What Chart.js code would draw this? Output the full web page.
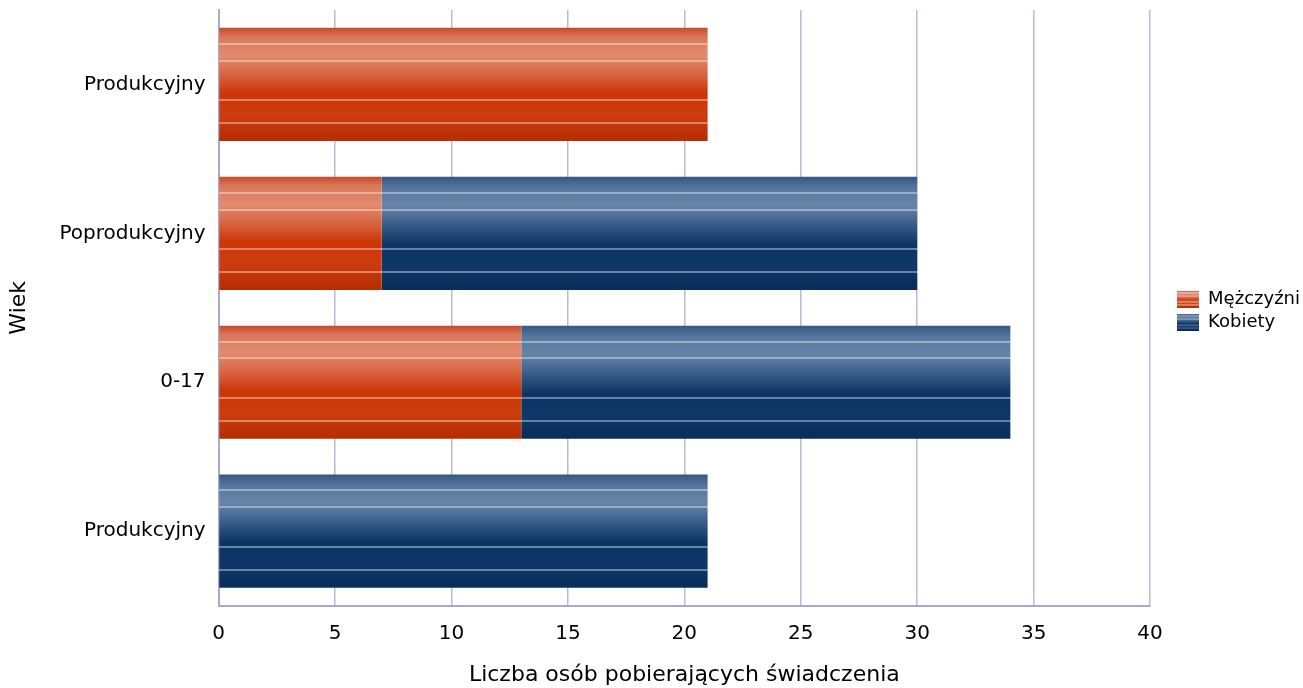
<!DOCTYPE html>
<html>
<head>
<meta charset="utf-8">
<script src="https://cdn.jsdelivr.net/npm/chart.js@4.4.1/dist/chart.umd.min.js"></script>
<style>
html,body{margin:0;padding:0;background:#fff;}
#wrap{width:1303px;height:688px;position:relative;}
</style>
</head>
<body>
<div id="wrap"><canvas id="c" width="1303" height="688"></canvas></div>
<script>
const categories = ['Produkcyjny', 'Poprodukcyjny', '0-17', 'Produkcyjny'];
const seriesNames = ['Mężczyźni', 'Kobiety'];
const menValues = [21, 7, 13, 0];
const womenValues = [0, 23, 21, 21];
const xTicks = [0, 5, 10, 15, 20, 25, 30, 35, 40];
const xTitle = 'Liczba osób pobierających świadczenia';
const yTitle = 'Wiek';

const FONT = 'DejaVu Sans';
const BAR_FRAC = 0.76;

const orangeStops = [[0,'#c9492a'],[0.08,'#db7658'],[0.24,'#e28b6f'],[0.42,'#d7623f'],[0.58,'#cc3505'],[0.76,'#cd3d0e'],[1,'#b52d02']];
const blueStops = [[0,'#355781'],[0.1,'#56769e'],[0.25,'#6785a8'],[0.42,'#3a5d88'],[0.6,'#0b3464'],[0.8,'#0e3868'],[1,'#092c59']];
const linePos = [0.14, 0.29, 0.64, 0.84];

function hex2rgb(h){return [parseInt(h.substr(1,2),16),parseInt(h.substr(3,2),16),parseInt(h.substr(5,2),16)];}
function sample(stops,p){
  for(let i=0;i<stops.length-1;i++){
    const [a,ca]=stops[i],[b,cb]=stops[i+1];
    if(p>=a&&p<=b){const t=(p-a)/(b-a);const x=hex2rgb(ca),y=hex2rgb(cb);return x.map((v,k)=>v+(y[k]-v)*t);}
  }
  return hex2rgb(stops[stops.length-1][1]);
}
function rgbStr(c){return 'rgb('+c.map(v=>Math.round(v)).join(',')+')';}
function mixWhite(c,a){return c.map(v=>v+(255-v)*a);}
function fullStops(stops,h){
  const w = 1.0/Math.max(h,1);
  let out = stops.map(s=>[s[0],rgbStr(hex2rgb(s[1]))]);
  linePos.forEach(p=>{
    const c0=sample(stops,p-w), c1=sample(stops,p+w);
    const m=mixWhite(sample(stops,p),0.38);
    out.push([p-w, rgbStr(c0)]);
    out.push([p-w+0.0001, rgbStr(m)]);
    out.push([p+w-0.0001, rgbStr(m)]);
    out.push([p+w, rgbStr(c1)]);
  });
  out.sort((a,b)=>a[0]-b[0]);
  return out;
}
function makeGrad(ctx2d,y0,y1,stops){
  const g=ctx2d.createLinearGradient(0,y0,0,y1);
  fullStops(stops,y1-y0).forEach(s=>g.addColorStop(Math.min(1,Math.max(0,s[0])),s[1]));
  return g;
}
function barFill(stops,solid){
  return function(ctx){
    const chart=ctx.chart;
    if(!chart.chartArea||!chart.scales.y) return solid;
    const ys=chart.scales.y;
    const yc=ys.getPixelForValue(ctx.dataIndex);
    const h=(ys.height/categories.length)*BAR_FRAC;
    return makeGrad(chart.ctx,yc-h/2,yc+h/2,stops);
  };
}
function legendIcon(stops){
  const cv=document.createElement('canvas');
  cv.width=22;cv.height=17;
  const c=cv.getContext('2d');
  c.fillStyle=makeGrad(c,0,17,stops);
  c.fillRect(0,0,22,17);
  return cv;
}
const icons=[legendIcon(orangeStops),legendIcon(blueStops)];

// shifts the legend drawing a little away from the plot area
const legendShift = {
  id:'legendShift',
  beforeDraw(chart){
    const lg=chart.legend;
    if(lg && !lg._shiftPatched){
      const orig=lg.draw.bind(lg);
      lg.draw=function(){
        const dx=chart.chartArea.right+22-lg.left;
        chart.ctx.save();chart.ctx.translate(dx,3);orig();chart.ctx.restore();
      };
      lg._shiftPatched=true;
    }
  }
};

new Chart(document.getElementById('c'),{
  type:'bar',
  data:{
    labels:categories,
    datasets:[
      {label:seriesNames[0],data:menValues,backgroundColor:barFill(orangeStops,'#cc3300'),borderWidth:0},
      {label:seriesNames[1],data:womenValues,backgroundColor:barFill(blueStops,'#0b3464'),borderWidth:0}
    ]
  },
  plugins:[legendShift],
  options:{
    indexAxis:'y',
    responsive:false,
    animation:false,
    devicePixelRatio:1,
    datasets:{bar:{barPercentage:1,categoryPercentage:BAR_FRAC}},
    layout:{padding:{top:10,right:15,left:6,bottom:0}},
    plugins:{
      tooltip:{enabled:false},
      legend:{
        position:'right',
        align:'center',
        fullSize:false,
        labels:{
          usePointStyle:true,
          pointStyleWidth:22,
          color:'#000',
          font:{family:FONT,size:18},
          padding:5,
          generateLabels:function(chart){
            return chart.data.datasets.map((ds,i)=>({text:ds.label,pointStyle:icons[i],datasetIndex:i,fontColor:'#000',lineWidth:0,strokeStyle:'transparent',hidden:false}));
          }
        }
      }
    },
    scales:{
      x:{
        stacked:true,
        min:0,max:40,
        afterBuildTicks:function(s){s.ticks=xTicks.map(v=>({value:v}));},
        grid:{color:'#b9b9d8',lineWidth:1.5,drawTicks:false},
        border:{color:'#a9a9cc',width:2},
        ticks:{color:'#000',font:{family:FONT,size:20},padding:16},
        title:{display:true,text:xTitle,color:'#000',font:{family:FONT,size:22},padding:{top:0,bottom:0}}
      },
      y:{
        stacked:true,
        afterFit:function(s){s.paddingTop=0;s.paddingBottom=0;},
        grid:{display:false,drawTicks:false},
        border:{color:'#a9a9cc',width:2},
        ticks:{color:'#000',font:{family:FONT,size:20},padding:13},
        title:{display:true,text:yTitle,color:'#000',font:{family:FONT,size:22},padding:{top:0,bottom:14}}
      }
    }
  }
});
</script>
</body>
</html>
